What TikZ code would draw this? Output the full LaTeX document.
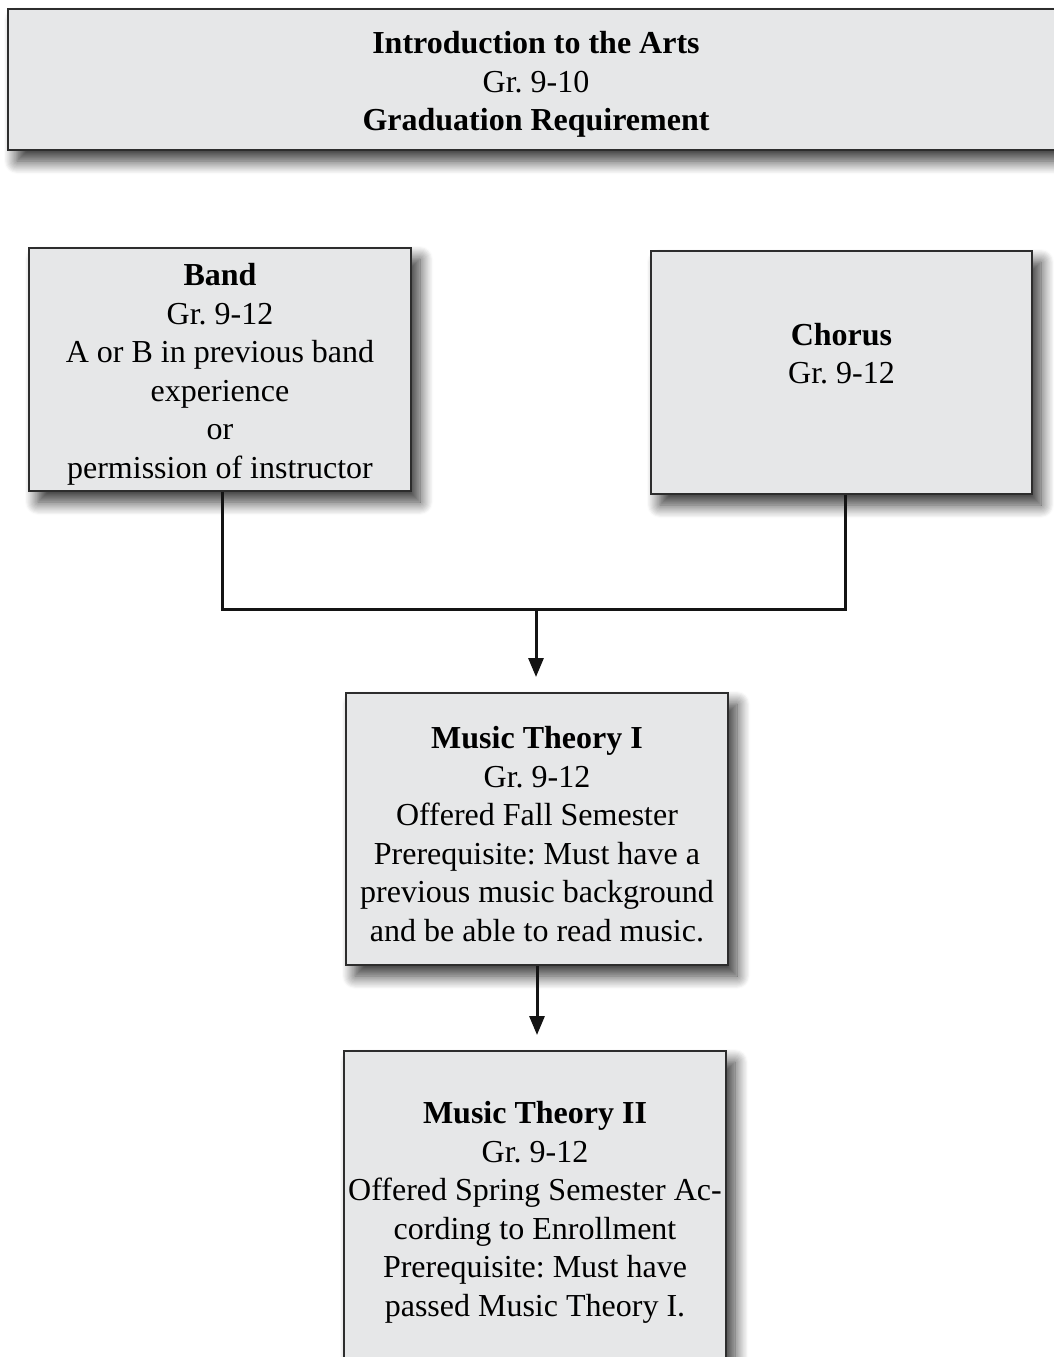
\documentclass[tikz,border=0pt]{standalone}
\usepackage{fontspec}
\setmainfont{Liberation Serif}
\usetikzlibrary{shapes,arrows.meta,positioning,calc,shadows.blur}
\definecolor{boxcolor}{RGB}{230, 231, 232}
\definecolor{edgecolor}{RGB}{45, 45, 45}
\definecolor{linecolor}{RGB}{20, 20, 20}
\newcommand{\topstrut}{\rule{0pt}{32pt}}

\begin{document}
\begin{tikzpicture}[
        x=1pt, y=-1pt,
        course/.style={rectangle, draw=edgecolor, line width=2pt, fill=boxcolor, align=center, inner sep=0pt,
            font=\fontsize{32}{38.5}\selectfont\frenchspacing,
            blur shadow={shadow xshift=9pt, shadow yshift=-11pt, shadow blur radius=13pt, shadow blur steps=12, shadow opacity=80}},
        link/.style={draw=linecolor, line width=3pt},
        arrow/.style={link, -{Triangle[width=15pt, length=19pt]}, shorten >=15pt}
    ]
        \useasboundingbox (0,0) rectangle (1054,1357);

        % Requirement
        \node[course, minimum width=1056pt, minimum height=141pt] (intro) at (536,79.5) {
            \topstrut\textbf{Introduction to the Arts}\\
            Gr. 9-10\\
            \textbf{Graduation Requirement}
        };

        % Ensembles
        \node[course, minimum width=382pt, minimum height=243pt] (band) at (220,369.5) {
            \topstrut\textbf{Band}\\
            Gr. 9-12\\
            A or B in previous band\\
            experience\\
            or\\
            permission of instructor
        };
        \node[course, minimum width=381pt, minimum height=243pt] (chorus) at (841.5,372.5) {
            \topstrut\textbf{Chorus}\\
            Gr. 9-12\\[10pt]
            \mbox{}
        };

        % Theory
        \node[course, minimum width=382pt, minimum height=272pt] (theory1) at (537,829) {
            \topstrut\textbf{Music Theory I}\\
            Gr. 9-12\\
            Offered Fall Semester\\
            Prerequisite: Must have a\\
            previous music background\\
            and be able to read music.
        };
        \node[course, minimum width=382pt, minimum height=313pt] (theory2) at (535,1207.5) {
            \topstrut\textbf{Music Theory II}\\
            Gr. 9-12\\
            Offered Spring Semester Ac-\\
            cording to Enrollment\\
            Prerequisite: Must have\\
            passed Music Theory I.
        };

        % Connectors
        \coordinate (join) at (536,609);
        \draw[link] ([xshift=2pt]band.south) |- (join) -| ([xshift=3.5pt]chorus.south);
        \draw[arrow] (join) -- (join |- theory1.north);
        \draw[arrow] (theory1.south) -- (theory1.south |- theory2.north);

    \end{tikzpicture}
\end{document}
